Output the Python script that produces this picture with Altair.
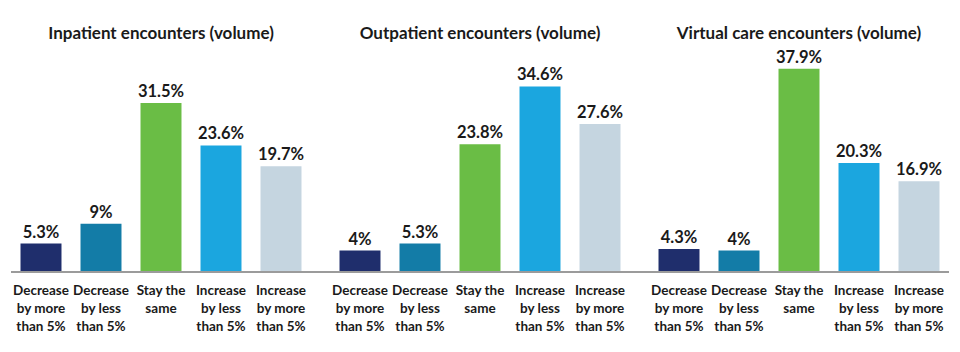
import altair as alt
import pandas as pd

panel_titles = [
    "Inpatient encounters (volume)",
    "Outpatient encounters (volume)",
    "Virtual care encounters (volume)",
]
categories = [
    "Decrease|by more|than 5%",
    "Decrease|by less|than 5%",
    "Stay the|same",
    "Increase|by less|than 5%",
    "Increase|by more|than 5%",
]
inpatient = [5.3, 9, 31.5, 23.6, 19.7]
outpatient = [4, 5.3, 23.8, 34.6, 27.6]
virtual_care = [4.3, 4, 37.9, 20.3, 16.9]
series = [inpatient, outpatient, virtual_care]
colors = ["#1f2e6c", "#137ca7", "#6abd45", "#1ba6df", "#c5d5e0"]

FONT = "Lato"
YMAX = 42.5
H = 228


def panel(title, values, rule_x2):
    df = pd.DataFrame({"category": categories, "value": values})
    base = alt.Chart(df).transform_calculate(label="datum.value + '%'")
    x = alt.X(
        "category:N",
        sort=categories,
        scale=alt.Scale(paddingInner=0.317, paddingOuter=0.1585),
        axis=alt.Axis(
            title=None,
            labelAngle=0,
            labelExpr="split(datum.value, '|')",
            labelFont=FONT,
            labelFontSize=13.5,
            labelFontWeight="bold",
            labelColor="#1a1a1a",
            labelLineHeight=18,
            labelPadding=11,
            labelBaseline="top",
            domain=False,
            ticks=False,
            grid=False,
        ),
    )
    yscale = alt.Scale(domain=[0, YMAX], nice=False)
    y = alt.Y("value:Q", scale=yscale, axis=None)
    bars = base.mark_bar().encode(
        x=x,
        y=y,
        color=alt.Color(
            "category:N",
            sort=categories,
            scale=alt.Scale(domain=categories, range=colors),
            legend=None,
        ),
    )
    text = base.mark_text(
        baseline="alphabetic", dy=-6, font=FONT, fontSize=16.5, fontWeight="bold", color="#1a1a1a"
    ).encode(x=x, y=y, text="label:N")
    rule = (
        alt.Chart(pd.DataFrame({"zero": [0]}))
        .mark_rule(color="#9b9b9b", strokeWidth=2)
        .encode(y=alt.Y("zero:Q", scale=yscale, axis=None),
                x=alt.value(0), x2=alt.value(rule_x2))
    )
    return alt.layer(bars, rule, text).properties(
        width=300,
        height=H,
        title=alt.TitleParams(
            title, font=FONT, fontSize=17, fontWeight="bold", color="#1a1a1a", anchor="middle", offset=1
        ),
    )


chart = (
    alt.hconcat(
        panel(panel_titles[0], series[0], 319),
        panel(panel_titles[1], series[1], 319),
        panel(panel_titles[2], series[2], 300),
        spacing=19,
        bounds="flush",
    )
    .properties(padding={"left": 10, "top": 25, "right": 0, "bottom": 0}, background="white")
    .configure_view(stroke=None)
)

chart.save("out.html", embed_options={"renderer": "svg", "actions": False})
